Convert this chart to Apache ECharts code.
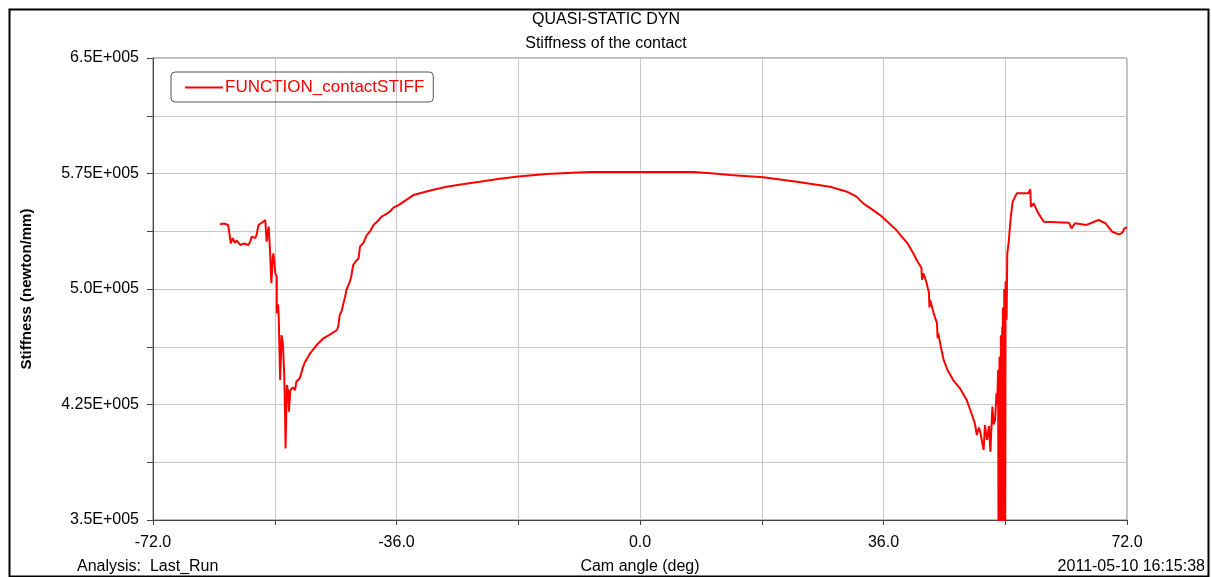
<!DOCTYPE html>
<html>
<head>
<meta charset="utf-8">
<title>Stiffness of the contact</title>
<script src="https://cdn.jsdelivr.net/npm/echarts@6/dist/echarts.min.js"></script>
<style>
  html, body { margin: 0; padding: 0; background: #fff; }
  #chart { width: 1212px; height: 577px; }
</style>
</head>
<body>
<div id="chart"></div>
<script>
// cam angle (deg)
const camAngle = [
  -62.1, -61.5, -60.9, -60.7, -60.5, -60.2, -59.9, -59.6, -59.1, -58.5,
  -57.9, -57.6, -57.4, -56.9, -56.7, -56.4, -55.9, -55.4, -55.2, -55.0,
  -54.9, -54.7, -54.5, -54.3, -54.2, -53.9, -53.7, -53.7, -53.5, -53.4,
  -53.3, -53.2, -53.0, -52.8, -52.6, -52.5, -52.4, -52.3, -52.2, -52.0,
  -51.9, -51.7, -51.3, -51.0, -50.8, -50.3, -49.8, -49.5, -48.8, -47.8,
  -46.8, -45.8, -44.8, -44.6, -44.4, -44.1, -43.9, -43.6, -43.4, -43.2,
  -42.9, -42.7, -42.4, -42.0, -41.6, -41.4, -40.9, -40.4, -39.9, -39.4,
  -38.8, -38.2, -37.6, -37.0, -36.4, -35.7, -33.5, -31.0, -28.6, -26.0,
  -23.7, -21.0, -18.0, -13.8, -10.0, -7.4, 0.0, 7.9, 10.5, 13.3,
  18.2, 23.2, 28.1, 30.6, 32.0, 33.0, 34.2, 35.5, 36.5, 37.9,
  38.7, 39.5, 40.4, 41.0, 41.6, 41.7, 41.9, 42.3, 42.7, 42.8,
  42.9, 43.5, 43.9, 44.0, 44.1, 44.5, 44.9, 45.5, 46.3, 47.3,
  48.3, 49.0, 49.5, 49.8, 50.1, 50.3, 50.6, 50.8, 51.0, 51.3,
  51.6, 51.8, 52.1, 52.3, 52.5, 52.7, 52.8, 52.95, 53.0, 53.05,
  53.1, 53.15, 53.2, 53.25, 53.3, 53.35, 53.4, 53.45, 53.5, 53.55,
  53.6, 53.65, 53.7, 53.75, 53.8, 53.85, 53.9, 53.95, 54.0, 54.05,
  54.1, 54.2, 54.3, 54.5, 54.7, 54.8, 55.1, 55.7, 57.4, 57.7,
  57.8, 58.2, 58.9, 59.7, 63.4, 63.6, 63.8, 64.3, 66.0, 67.8,
  68.8, 69.8, 70.8, 71.3, 71.6, 72.0
];

// contact stiffness (newton/mm)
const stiffness = [
  542000, 542500, 541600, 536000, 529700, 533000, 530000, 531500, 528600, 529500,
  528600, 531000, 534000, 533000, 535000, 541600, 543000, 544800, 530700, 538000,
  540500, 525000, 503700, 520000, 523200, 510000, 508000, 484200, 490000, 479900,
  460000, 440900, 470000, 464700, 445000, 425000, 396500, 420000, 437700, 433000,
  420300, 434400, 436000, 434400, 439800, 442000, 449600, 452800, 458000, 463600,
  468000, 470500, 473400, 476000, 483100, 486000, 486500, 495000, 499400, 500500,
  504700, 508000, 515600, 518000, 520000, 527500, 530000, 535000, 537500, 541600,
  544000, 547000, 548500, 550200, 553000, 554500, 561000, 564000, 566400, 568200,
  569700, 571500, 573000, 574700, 575500, 576000, 576000, 576000, 575200, 574000,
  572500, 569700, 566400, 563200, 560000, 555600, 552000, 548000, 544000, 538300,
  534000, 530000, 523200, 518000, 514000, 506000, 510200, 505000, 498000, 488000,
  492900, 483000, 478000, 468000, 471200, 462000, 453900, 447000, 440900, 435500,
  427900, 419300, 412800, 405200, 410000, 407300, 400000, 395500, 411700, 402000,
  411000, 394400, 423600, 412000, 415000, 432300, 425000, 447400, 340000, 438000,
  340000, 456000, 340000, 452000, 340000, 470000, 340000, 466000, 340000, 475500,
  340000, 488000, 340000, 481000, 340000, 500000, 340000, 494000, 340000, 505000,
  501500, 480000, 523200, 530000, 529700, 546000, 556700, 562100, 562100, 564700,
  553400, 555600, 549100, 543700, 543000, 544000, 539400, 542700, 541600, 544800,
  542700, 537200, 535500, 536500, 539400, 540000
];

const xTicks = [-72, -36, 0, 36, 72];
const yTicks = [350000, 425000, 500000, 575000, 650000];

const FONT = "'Liberation Sans', Arial, sans-serif";

const chart = echarts.init(document.getElementById("chart"));

function yLabel(v) {
  const m = v / 100000;
  const s = Number.isInteger(m) ? m.toFixed(1) : String(m);
  return s + "E+005";
}

chart.setOption({
  animation: false,
  backgroundColor: "#fff",
  textStyle: { fontFamily: FONT },
  title: {
    text: "QUASI-STATIC DYN",
    subtext: "Stiffness of the contact",
    left: "center",
    top: 7,
    itemGap: 8,
    textStyle: { fontSize: 16, fontWeight: "normal", color: "#000", fontFamily: FONT },
    subtextStyle: { fontSize: 16, color: "#000", fontFamily: FONT }
  },
  legend: {
    left: 171,
    top: 72,
    padding: [7, 9, 6, 14],
    borderColor: "#555",
    borderWidth: 1,
    borderRadius: 4,
    itemWidth: 38,
    itemHeight: 2,
    itemGap: 4,
    icon: "rect",
    textStyle: { color: "#ff0000", fontSize: 17, fontFamily: FONT, padding: [0, 0, 0, -3] },
    data: ["FUNCTION_contactSTIFF"]
  },
  grid: {
    left: 153,
    right: 85,
    top: 58,
    bottom: 57,
    outerBoundsMode: "none",
    show: true,
    borderColor: "#777",
    borderWidth: 1
  },
  xAxis: {
    type: "value",
    min: -72,
    max: 72,
    interval: 18,
    name: "Cam angle (deg)",
    nameLocation: "middle",
    nameGap: 39,
    nameTextStyle: { fontSize: 16, color: "#000", fontFamily: FONT },
    axisLine: { onZero: false, lineStyle: { color: "#444", width: 1 } },
    axisTick: { show: true, length: 5, lineStyle: { color: "#444" } },
    axisLabel: {
      fontSize: 16,
      color: "#000",
      margin: 15,
      formatter: v => (xTicks.includes(v) ? v.toFixed(1) : "")
    },
    splitLine: { show: true, lineStyle: { color: "#c8c8c8", width: 1 } }
  },
  yAxis: {
    type: "value",
    min: 350000,
    max: 650000,
    interval: 37500,
    name: "Stiffness (newton/mm)",
    nameLocation: "middle",
    nameGap: 119,
    nameTextStyle: { fontSize: 15, fontWeight: "bold", color: "#000", fontFamily: FONT },
    axisLine: { show: true, onZero: false, lineStyle: { color: "#444", width: 1 } },
    axisTick: { show: true, length: 6, lineStyle: { color: "#444" } },
    axisLabel: {
      fontSize: 16,
      color: "#000",
      margin: 14,
      formatter: v => (yTicks.includes(v) ? yLabel(v) : "")
    },
    splitLine: { show: true, lineStyle: { color: "#c8c8c8", width: 1 } }
  },
  graphic: [
    {
      type: "rect",
      left: 7,
      top: 7,
      z: -10,
      shape: { width: 1199, height: 567 },
      style: { fill: "none", stroke: "#000", lineWidth: 2 }
    },
    {
      type: "text",
      left: 77,
      top: 559,
      style: { text: "Analysis:  Last_Run", font: "16px " + FONT, fill: "#000" }
    },
    {
      type: "text",
      right: 7,
      top: 559,
      style: { text: "2011-05-10 16:15:38", font: "16px " + FONT, fill: "#000" }
    }
  ],
  series: [
    {
      name: "FUNCTION_contactSTIFF",
      type: "line",
      data: camAngle.map((x, i) => [x, stiffness[i]]),
      showSymbol: false,
      symbol: "none",
      clip: true,
      lineStyle: { color: "#ff0000", width: 2 },
      itemStyle: { color: "#ff0000" }
    }
  ]
});
</script>
</body>
</html>
